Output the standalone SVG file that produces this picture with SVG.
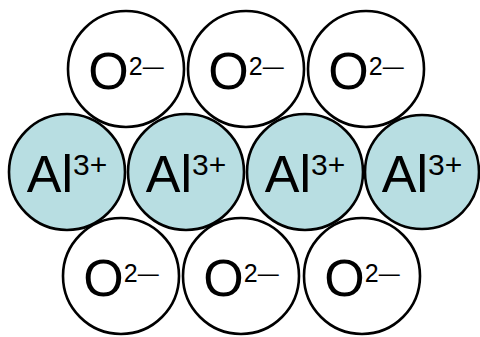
<svg xmlns="http://www.w3.org/2000/svg" width="480" height="337" viewBox="0 0 480 337">
<style>
.o{fill:#ffffff;stroke:#000;stroke-width:2.6}
.al{fill:#b8dee2;stroke:#000;stroke-width:2.6}
.t{font-family:"Liberation Sans",Arial,sans-serif;font-size:52px;fill:#000;text-anchor:middle}
.so{font-size:25px}
.sd{font-size:23px}
.sa{font-size:30px}
</style>
<rect width="480" height="337" fill="#fff"/>
<g id="o1"><circle class="o" cx="126" cy="69" r="58"/><text class="t" x="126" y="89">O<tspan class="so" dy="-14">2</tspan><tspan class="sd" dy="-1" textLength="21" lengthAdjust="spacingAndGlyphs">–</tspan></text></g>
<g id="o2"><circle class="o" cx="246" cy="69" r="58"/><text class="t" x="246" y="89">O<tspan class="so" dy="-14">2</tspan><tspan class="sd" dy="-1" textLength="21" lengthAdjust="spacingAndGlyphs">–</tspan></text></g>
<g id="o3"><circle class="o" cx="366" cy="69" r="58"/><text class="t" x="366" y="89">O<tspan class="so" dy="-14">2</tspan><tspan class="sd" dy="-1" textLength="21" lengthAdjust="spacingAndGlyphs">–</tspan></text></g>
<g id="o4"><circle class="o" cx="121" cy="276" r="58"/><text class="t" x="121" y="296">O<tspan class="so" dy="-14">2</tspan><tspan class="sd" dy="-1" textLength="21" lengthAdjust="spacingAndGlyphs">–</tspan></text></g>
<g id="o5"><circle class="o" cx="241" cy="276" r="58"/><text class="t" x="241" y="296">O<tspan class="so" dy="-14">2</tspan><tspan class="sd" dy="-1" textLength="21" lengthAdjust="spacingAndGlyphs">–</tspan></text></g>
<g id="o6"><circle class="o" cx="362" cy="276" r="58"/><text class="t" x="362" y="296">O<tspan class="so" dy="-14">2</tspan><tspan class="sd" dy="-1" textLength="21" lengthAdjust="spacingAndGlyphs">–</tspan></text></g>
<g id="al1"><circle class="al" cx="67" cy="172" r="58"/><text class="t" x="67" y="192">Al<tspan class="sa" dy="-17">3+</tspan></text></g>
<g id="al2"><circle class="al" cx="186" cy="172" r="58"/><text class="t" x="186" y="192">Al<tspan class="sa" dy="-17">3+</tspan></text></g>
<g id="al3"><circle class="al" cx="305" cy="172" r="58"/><text class="t" x="305" y="192">Al<tspan class="sa" dy="-17">3+</tspan></text></g>
<g id="al4"><circle class="al" cx="422" cy="172" r="57"/><text class="t" x="422" y="192">Al<tspan class="sa" dy="-17">3+</tspan></text></g>
<g id="connectors"></g>
</svg>
